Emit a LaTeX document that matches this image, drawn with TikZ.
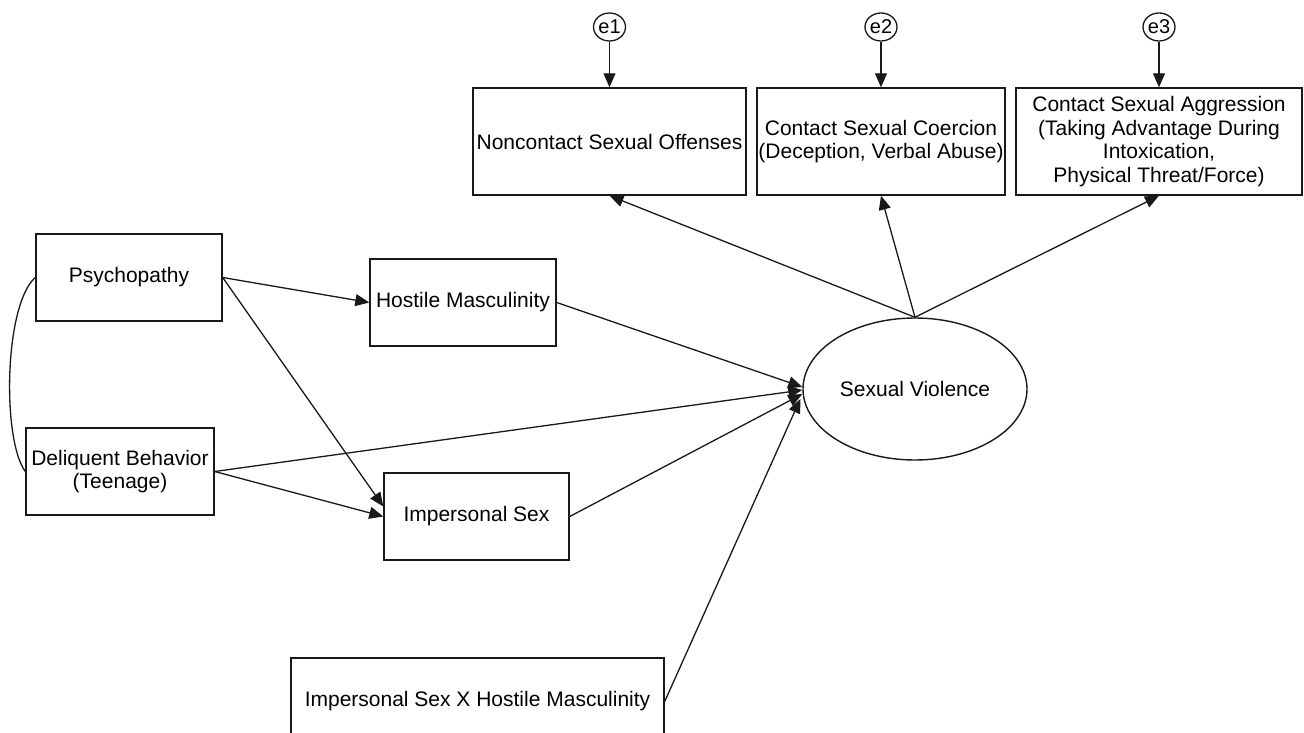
\documentclass[tikz,border=0pt]{standalone}
\usepackage{fontspec}
\setmainfont{Liberation Sans}
\usetikzlibrary{arrows.meta,shapes.geometric}
\tikzset{
  sembox/.style={draw=black!90, line width=1.4pt, rectangle, inner sep=0pt, align=center,
    font=\fontsize{21}{23.5}\selectfont},
  latent/.style={draw=black!90, line width=1.4pt, ellipse, inner sep=0pt, align=center,
    font=\fontsize{21}{23.5}\selectfont},
  errc/.style={draw=black!90, line width=1.3pt, ellipse, inner sep=0pt,
    minimum width=32pt, minimum height=28pt, font=\fontsize{20}{22}\selectfont},
  semarrow/.style={draw=black!90, line width=1.3pt, -{Triangle[length=14pt,width=12pt]}},
  cov/.style={draw=black!90, line width=1.3pt}
}
\begin{document}
\begin{tikzpicture}[x=1pt,y=-1pt]
\useasboundingbox (0,0) rectangle (1304,733);
% observed variables
\node[sembox, minimum width=186pt, minimum height=87pt] (psy) at (129,277.5) {Psychopathy};
\node[sembox, minimum width=186pt, minimum height=87pt] (hos) at (463,302.5) {Hostile Masculinity};
\node[sembox, minimum width=188pt, minimum height=87pt] (del) at (120,471.5) {Deliquent Behavior\\(Teenage)};
\node[sembox, minimum width=185pt, minimum height=87pt] (imp) at (476.5,516.5) {Impersonal Sex};
\node[sembox, minimum width=373pt, minimum height=87pt] (int) at (477.5,701.5) {Impersonal Sex X Hostile Masculinity};
% outcomes
\node[sembox, minimum width=273pt, minimum height=107pt] (non) at (609.5,141.5) {Noncontact Sexual Offenses};
\node[sembox, minimum width=248pt, minimum height=107pt] (coe) at (881,141.5) {Contact Sexual Coercion\\(Deception, Verbal Abuse)};
\node[sembox, minimum width=286pt, minimum height=107pt] (agg) at (1159,141.5) {Contact Sexual Aggression\\(Taking Advantage During\\Intoxication,\\Physical Threat/Force)};
% latent
\node[latent, minimum width=224pt, minimum height=142pt] (sv) at (915,389) {Sexual Violence};
% errors
\node[errc] (e1) at (609.5,27) {e1};
\node[errc] (e2) at (881,27) {e2};
\node[errc] (e3) at (1159,27) {e3};
% error paths
\draw[semarrow] (e1.south) -- (non.north);
\draw[semarrow] (e2.south) -- (coe.north);
\draw[semarrow] (e3.south) -- (agg.north);
% structural paths
\draw[semarrow] (psy.east) -- (hos.west);
\draw[semarrow] (psy.east) -- ([yshift=10pt]imp.west);
\draw[semarrow] (del.east) -- (imp.west);
\draw[semarrow] (hos.east) -- ([yshift=2pt]sv.west);
\draw[semarrow] (del.east) -- ([yshift=-1pt]sv.west);
\draw[semarrow] (imp.east) -- ([yshift=-5pt]sv.west);
\draw[semarrow] (int.east) -- ([xshift=-2pt,yshift=-10pt]sv.west);
% measurement paths
\draw[semarrow] (sv.north) -- (non.south);
\draw[semarrow] (sv.north) -- (coe.south);
\draw[semarrow] (sv.north) -- (agg.south);
% covariance
\draw[cov] (psy.west) .. controls (4,305) and (2,440) .. (del.west);
\end{tikzpicture}
\end{document}
